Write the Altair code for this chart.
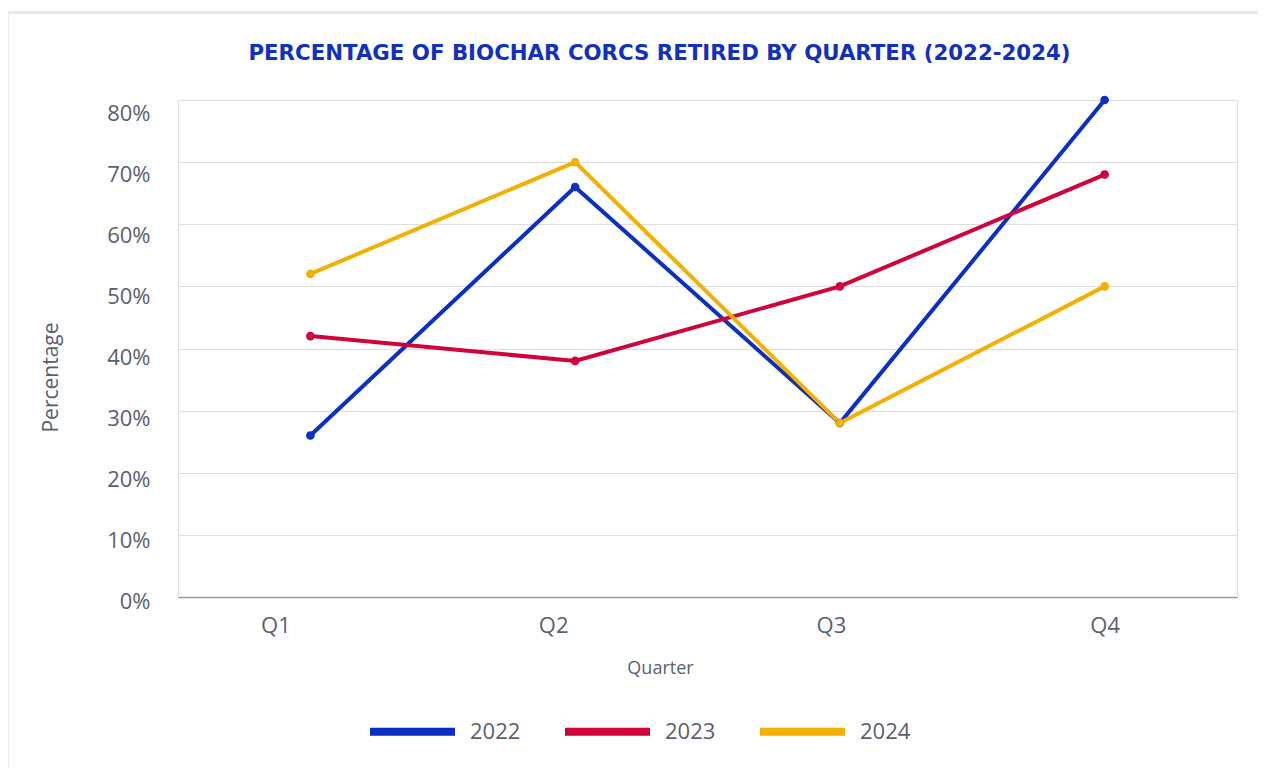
import altair as alt
import pandas as pd

quarters = ["Q1", "Q2", "Q3", "Q4"]
years = ["2022", "2023", "2024"]
v2022 = [26, 66, 28, 80]
v2023 = [42, 38, 50, 68]
v2024 = [52, 70, 28, 50]
colors = ["#0a2fc2", "#d0023c", "#f2b100"]

rows = []
for yr, vals in zip(years, [v2022, v2023, v2024]):
    for q, v in zip(quarters, vals):
        rows.append({"Quarter": q, "Year": yr, "Percentage": v / 100})
df = pd.DataFrame(rows)

FONT = "Open Sans"
TXT = "#5a6070"

x_enc = alt.X(
    "Quarter:N",
    sort=quarters,
    scale=alt.Scale(type="point", padding=0.5),
    axis=alt.Axis(
        title="Quarter",
        labelAngle=0,
        ticks=False,
        grid=False,
        domainColor="#9c9c9c",
        domainWidth=1.5,
        labelFontSize=22,
        labelColor=TXT,
        labelFont=FONT,
        labelPadding=18,
        labelOffset={
            "condition": [
                {"test": "datum.value == 'Q1'", "value": -35},
                {"test": "datum.value == 'Q2'", "value": -22},
                {"test": "datum.value == 'Q3'", "value": -9},
            ],
            "value": 0,
        },
        titleFontSize=18,
        titleFontWeight="normal",
        titleColor=TXT,
        titleFont=FONT,
        titleX=482,
        titleY=62,
    ),
)
y_enc = alt.Y(
    "Percentage:Q",
    scale=alt.Scale(domain=[0, 0.8], nice=False),
    axis=alt.Axis(
        title="Percentage",
        format=".0%",
        values=[0, 0.1, 0.2, 0.3, 0.4, 0.5, 0.6, 0.7, 0.8],
        ticks=False,
        domain=False,
        gridColor="#dedede",
        gridWidth=1,
        labelFontSize=22,
        labelColor=TXT,
        labelFont=FONT,
        labelPadding=28,
        labelOffset={"expr": "4.5 + datum.value * 11.5"},
        titleFontSize=21,
        titleFontWeight="normal",
        titleColor=TXT,
        titleFont=FONT,
        titleAngle=-90,
        titleX=-127,
        titleY=277,
        titleAlign="center",
        titleBaseline="middle",
    ),
)
color_scale = alt.Scale(domain=years, range=colors)

lines = alt.Chart(df).mark_line(strokeWidth=4).encode(
    x=x_enc,
    y=y_enc,
    color=alt.Color(
        "Year:N",
        scale=color_scale,
        legend=alt.Legend(
            title=None,
            orient="none",
            direction="horizontal",
            legendX=188,
            legendY=585,
            symbolType="stroke",
            symbolSize=7225,
            symbolStrokeWidth=8,
            labelFontSize=22,
            labelColor=TXT,
            labelFont=FONT,
            labelOffset=11,
            columnPadding=28,
        ),
    ),
)
points = alt.Chart(df).mark_circle(size=75, opacity=1).encode(
    x=alt.X("Quarter:N", sort=quarters),
    y="Percentage:Q",
    color=alt.Color("Year:N", scale=color_scale, legend=None),
)

border = alt.Chart(pd.DataFrame({"a": [0]})).mark_rect(
    fillOpacity=0, stroke="#e6e8ea", strokeWidth=3, clip=False
).encode(
    x=alt.value(-170.5), x2=alt.value(1098), y=alt.value(-87.5), y2=alt.value(688)
)

chart = (
    alt.layer(border, lines, points)
    .properties(
        width=1059,
        height=497,
        autosize=alt.AutoSizeParams(type="none"),
        padding={"left": 170, "top": 92, "right": 21, "bottom": 170},
        title=alt.TitleParams(
            "PERCENTAGE OF BIOCHAR CORCS RETIRED BY QUARTER (2022-2024)",
            font="DejaVu Sans",
            fontSize=21.3,
            fontWeight="bold",
            color="#0f30c0",
            anchor="middle",
            frame="group",
            dx=-48,
            offset=-53,
        ),
    )
    .configure_view(stroke=None)
    .configure(background="white")
)

chart.save("out.html", embed_options={"renderer": "svg", "actions": False})
